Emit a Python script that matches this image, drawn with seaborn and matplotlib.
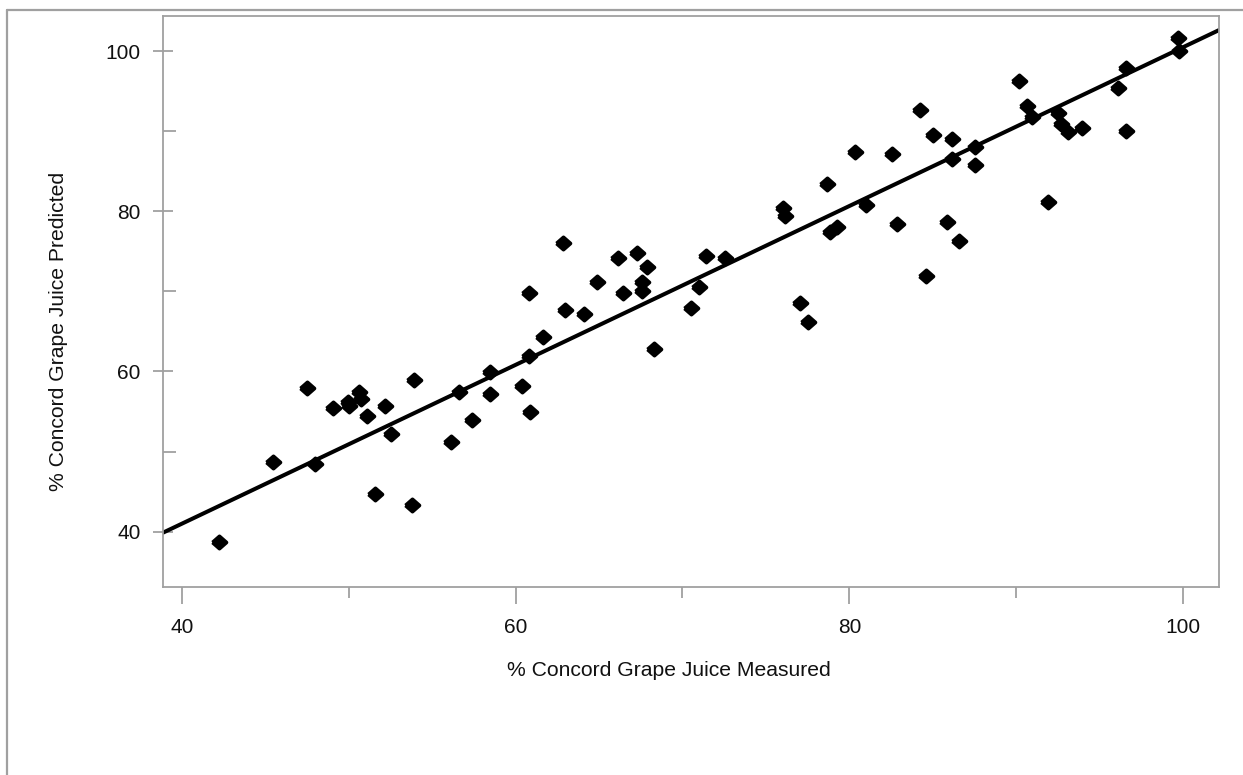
import numpy as np
import pandas as pd
import matplotlib
matplotlib.use("Agg")
import matplotlib.pyplot as plt
from matplotlib.lines import Line2D
from matplotlib.markers import MarkerStyle
from matplotlib.ticker import MultipleLocator
import seaborn as sns

# values
measured = [42.22, 45.47, 47.51, 47.97, 49.05, 49.97, 50.03, 50.63, 50.71, 51.11,
            52.19, 52.51, 51.59, 53.80, 53.92, 56.12, 56.60, 57.37, 58.46, 58.46,
            60.36, 60.86, 60.80, 61.62, 60.80, 62.98, 64.10, 62.86, 64.86, 66.15,
            67.26, 67.85, 66.45, 67.56, 67.56, 68.31, 70.51, 70.97, 71.41, 72.55,
            76.01, 76.14, 77.04, 77.54, 78.64, 78.84, 79.24, 80.34, 80.98, 82.54,
            82.84, 84.58, 85.00, 86.14, 85.84, 86.14, 86.59, 87.53, 87.55, 90.19,
            90.63, 90.93, 91.93, 92.53, 92.69, 93.13, 93.97, 96.12, 96.58, 96.57,
            99.72, 99.76, 84.24]
predicted = [38.75, 48.70, 57.90, 48.41, 55.48, 56.23, 55.73, 57.40, 56.53, 54.40,
             55.73, 52.19, 44.67, 43.37, 58.97, 51.16, 57.44, 54.00, 59.90, 57.15,
             58.22, 54.98, 61.97, 64.34, 69.83, 67.67, 67.13, 76.00, 71.13, 74.12,
             74.75, 73.08, 69.83, 71.20, 70.04, 62.80, 67.88, 70.58, 74.45, 74.12,
             80.36, 79.40, 68.51, 66.21, 83.36, 77.44, 77.99, 87.35, 80.78, 87.10,
             78.41, 71.95, 89.51, 88.98, 78.69, 86.52, 76.28, 87.98, 85.77, 96.25,
             93.13, 91.80, 81.11, 92.22, 90.85, 89.93, 90.35, 95.42, 97.91, 90.05,
             101.58, 100.00, 92.63]

fit_slope = 0.991
fit_intercept = 1.37

x_range = [38.86, 102.16]
y_range = [33.1, 104.37]

df = pd.DataFrame({"measured": measured, "predicted": predicted})

sns.set_style("white")
plt.rcParams['font.family'] = ['Liberation Sans', 'DejaVu Sans']

fig = plt.figure(figsize=(12.43, 7.75), dpi=100)
ax = fig.add_axes([163 / 1243, 1 - 587 / 775, (1219 - 163) / 1243, (587 - 16) / 775])

# rounded diamond marker, a little wider than tall
diamond = MarkerStyle([(-1, 0), (0, 0.88), (1, 0), (0, -0.88), (-1, 0)], joinstyle="round")

line_df = pd.DataFrame({"measured": x_range})
line_df["predicted"] = fit_intercept + fit_slope * line_df["measured"]
sns.lineplot(data=line_df, x="measured", y="predicted", ax=ax, color="black", lw=2.9)

sns.scatterplot(data=df, x="measured", y="predicted", ax=ax, marker=diamond,
                s=100, color="black", edgecolor="black", linewidth=2.7, zorder=3)

ax.set_xlim(*x_range)
ax.set_ylim(*y_range)

ax.xaxis.set_major_locator(MultipleLocator(20))
ax.xaxis.set_minor_locator(MultipleLocator(10))
ax.yaxis.set_major_locator(MultipleLocator(20))
ax.yaxis.set_minor_locator(MultipleLocator(10))

grey = "#a0a0a0"
for sp in ax.spines.values():
    sp.set_color(grey)
    sp.set_linewidth(1.3)

ax.tick_params(axis="x", which="major", direction="out", length=12, width=1.3,
               color=grey, labelsize=15, labelcolor="#111111", pad=10, bottom=True)
ax.tick_params(axis="x", which="minor", direction="out", length=8, width=1.3,
               color=grey, bottom=True)
ax.tick_params(axis="y", which="major", direction="inout", length=14, width=1.3,
               color=grey, labelsize=15, labelcolor="#111111", pad=9, left=True)
ax.tick_params(axis="y", which="minor", direction="in", length=9.5, width=1.3,
               color=grey, left=True)

ax.set_xlabel("% Concord Grape Juice Measured", fontsize=15.2, color="#111111")
ax.set_ylabel("% Concord Grape Juice Predicted", fontsize=15.2, color="#111111")
ax.xaxis.set_label_coords((669 - 163) / 1056, (587 - 661) / 571)
ax.yaxis.set_label_coords((68 - 163) / 1056, (587 - 331) / 571)

# outer frame, only its left and top edges are inside the picture
fig.add_artist(Line2D([7 / 1243, 7 / 1243], [0, 1 - 10 / 775], color=grey, lw=1.6))
fig.add_artist(Line2D([7 / 1243, 1], [1 - 10 / 775, 1 - 10 / 775], color=grey, lw=1.6))

fig.savefig("out.png", dpi=100, facecolor="white")
